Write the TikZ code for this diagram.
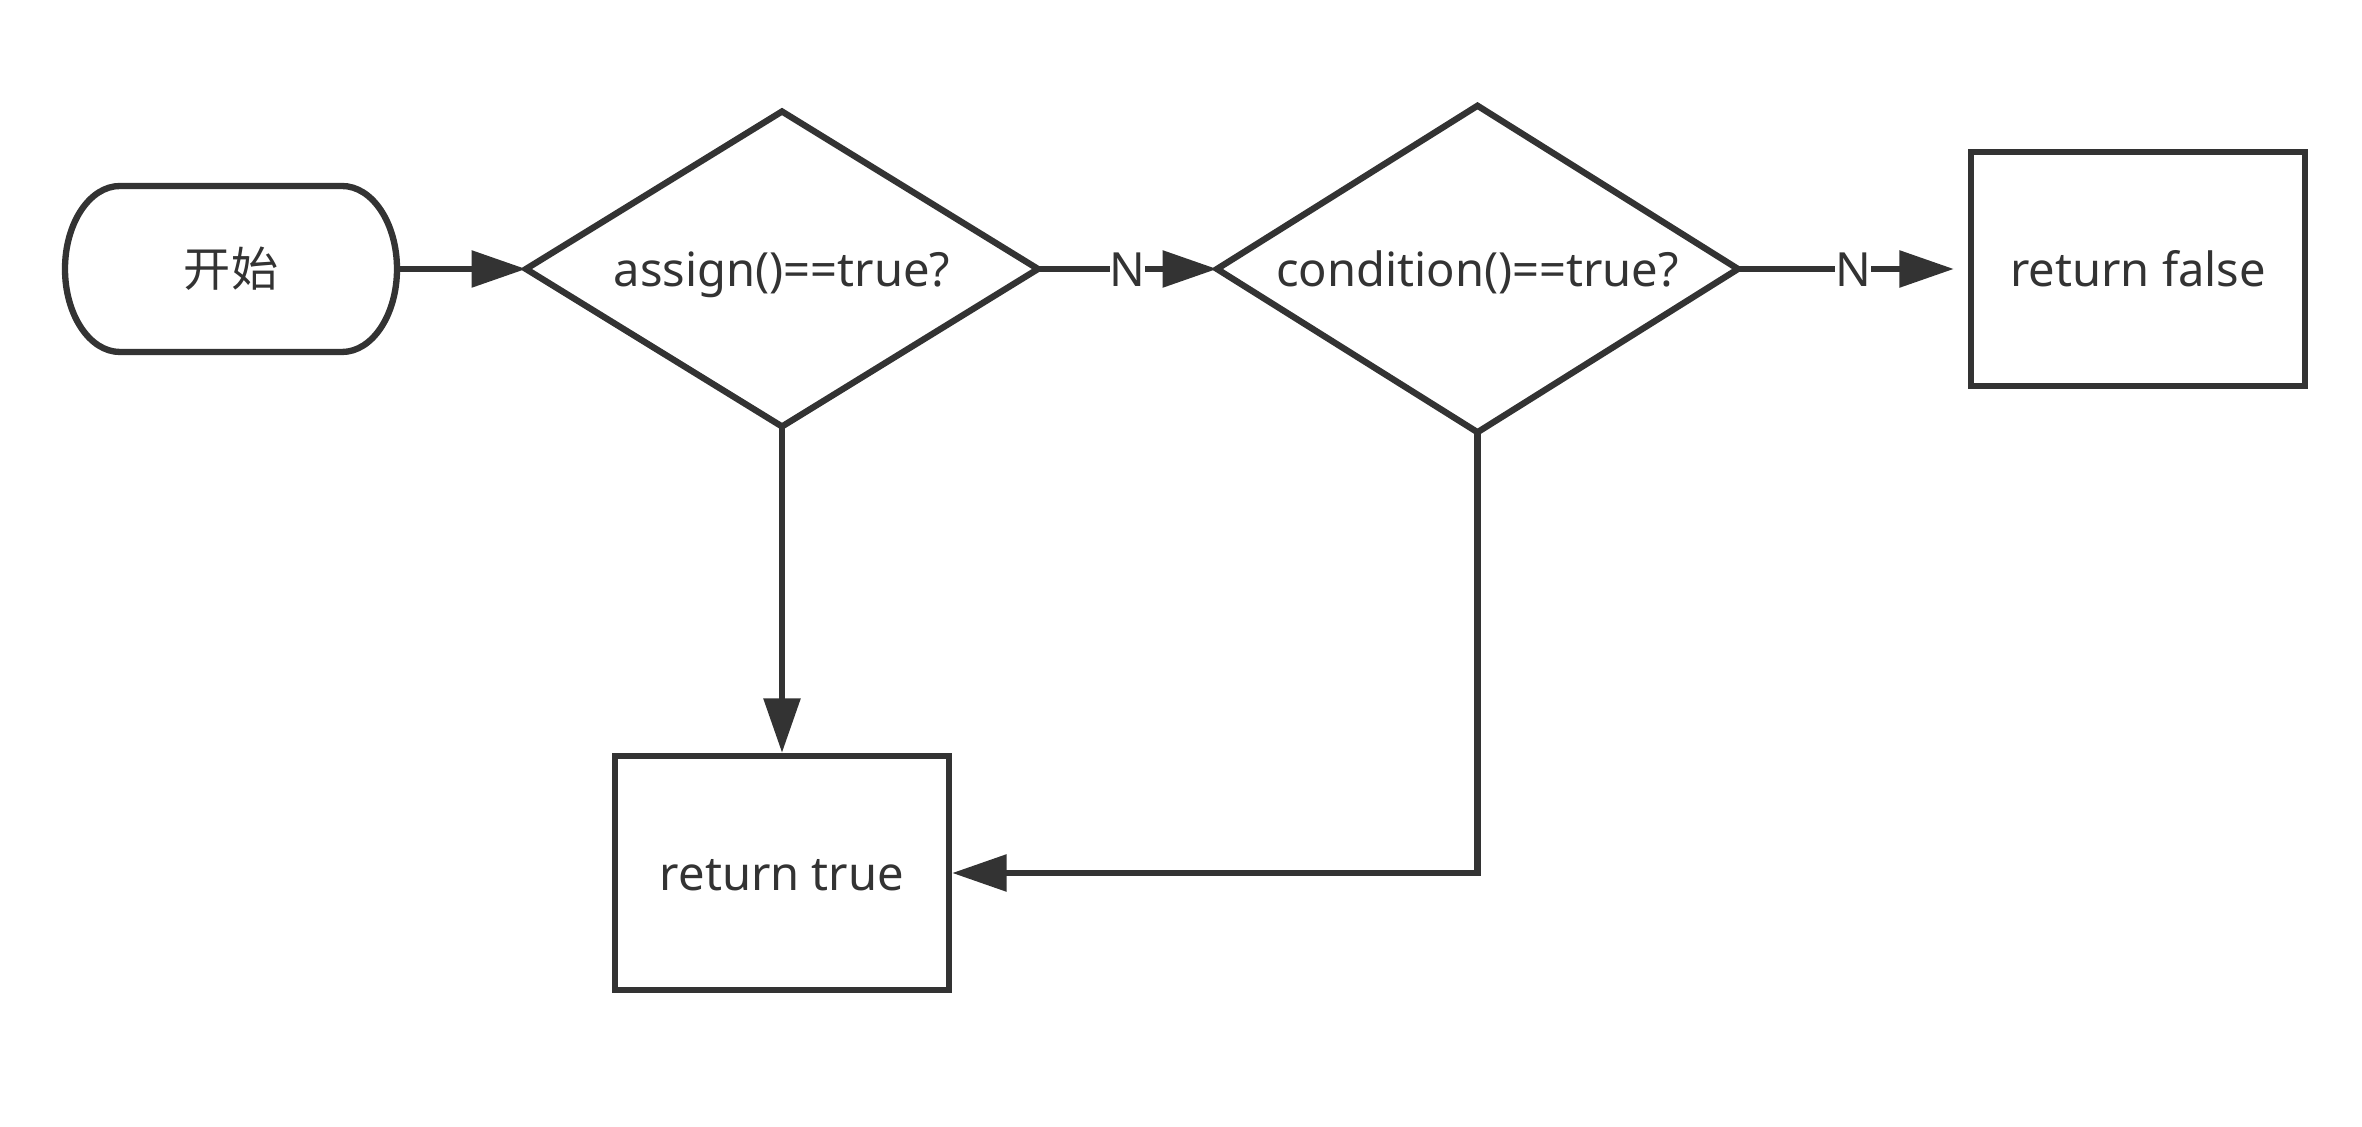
\documentclass[tikz,border=0pt]{standalone}
\usepackage{fontspec}
\setmainfont{Noto Sans}
\newfontfamily\cjk{Noto Sans CJK SC}
\usetikzlibrary{shapes.geometric, arrows.meta}
\definecolor{darkline}{HTML}{333333}

\begin{document}
\begin{tikzpicture}[every node/.style={inner sep=0pt, text height=0.46cm, text depth=0.1cm, font=\fontsize{13.4pt}{16pt}\selectfont},
  every path/.style={line width=1.8pt, color=darkline},
  decision/.style={diamond, draw, aspect=1.6, outer sep=0pt},
  process/.style={rectangle, draw, minimum width=3.34cm, minimum height=2.34cm},
  arr/.style={-{Triangle[length=15.5pt, width=10.2pt]}},
  lbl/.style={fill=white}]
\useasboundingbox (0,0) rectangle (23.62,11.26);

\node[minimum width=3.32cm, minimum height=1.66cm, outer sep=0pt] (S) at (2.31,8.57) {\cjk 开始};
\node[decision, minimum width=5.12cm, minimum height=3.15cm] (A) at (7.82,8.57) {assign()==true?};
\node[decision, minimum width=5.21cm, minimum height=3.265cm] (C) at (14.775,8.57) {condition()==true?};
\node[process] (F) at (21.38,8.57) {return false};
\node[process] (T) at (7.82,2.53) {return true};

% start terminal
\draw ([xshift=0.55cm]S.north west) -- ([xshift=-0.55cm]S.north east)
  arc[start angle=90, end angle=-90, x radius=0.55cm, y radius=0.83cm]
  -- ([xshift=0.55cm]S.south west)
  arc[start angle=270, end angle=90, x radius=0.55cm, y radius=0.83cm] -- cycle;

\draw[arr] (S.east) -- (A.west);
\draw[arr] (A.east) -- node[lbl] {N} (C.west);
\draw[arr, shorten >=0.14cm] (C.east) -- node[lbl] {N} (F.west);
\draw[arr] (A.south) -- (T.north);
\draw[arr] (C.south) |- (T.east);
\end{tikzpicture}
\end{document}
